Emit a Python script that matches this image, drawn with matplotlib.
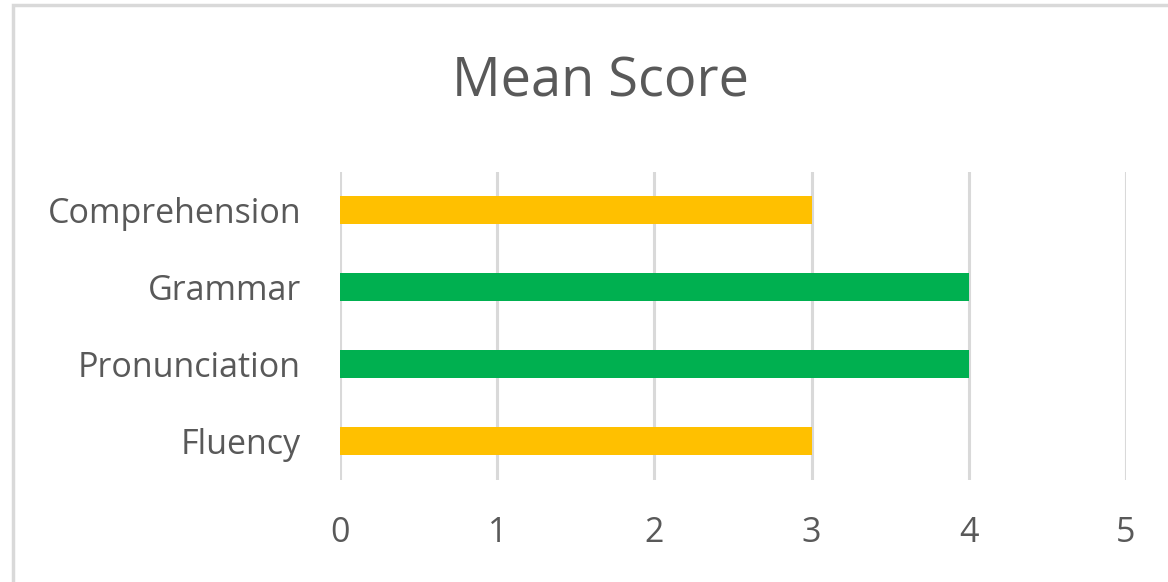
import matplotlib.pyplot as plt
from matplotlib.patches import Rectangle

plt.rcParams['font.family'] = ['Open Sans', 'DejaVu Sans']

# Dane
categories = ['Fluency', 'Pronunciation', 'Grammar', 'Comprehension']
scores = [3, 4, 4, 3]
colors = ['#FFC000', '#00B050', '#00B050', '#FFC000']
xticks = [0, 1, 2, 3, 4, 5]

text_color = '#595959'
grid_color = '#D9D9D9'

fig = plt.figure(figsize=(11.68, 5.82), dpi=100)
ax = fig.add_axes([340 / 1168, 1 - 479.5 / 582, (1126 - 340) / 1168, (479.5 - 171.5) / 582])

ax.barh(range(len(categories)), scores, height=0.36, color=colors, zorder=3)

ax.set_xlim(0, 5)
ax.set_ylim(-0.5, len(categories) - 0.5)
ax.set_xticks(xticks)
ax.set_yticks(range(len(categories)))
ax.set_yticklabels(categories)

ax.grid(axis='x', color=grid_color, lw=2.2, zorder=0)
ax.grid(axis='y', visible=False)
for s in ax.spines.values():
    s.set_visible(False)
ax.tick_params(axis='both', length=0, labelsize=24.5, labelcolor=text_color)
ax.tick_params(axis='y', pad=28)
ax.tick_params(axis='x', pad=26)

fig.suptitle('Mean Score', x=600 / 1168, y=1 - 82 / 582, va='center',
             fontsize=39, color=text_color)

# Ramka wykresu
fig.patches.append(Rectangle((12.5 / 1168, -0.1), 1.2, 1 - 5 / 582 + 0.1,
                             transform=fig.transFigure, fill=False,
                             edgecolor=grid_color, lw=2.5))

fig.savefig('out.png', dpi=100)
